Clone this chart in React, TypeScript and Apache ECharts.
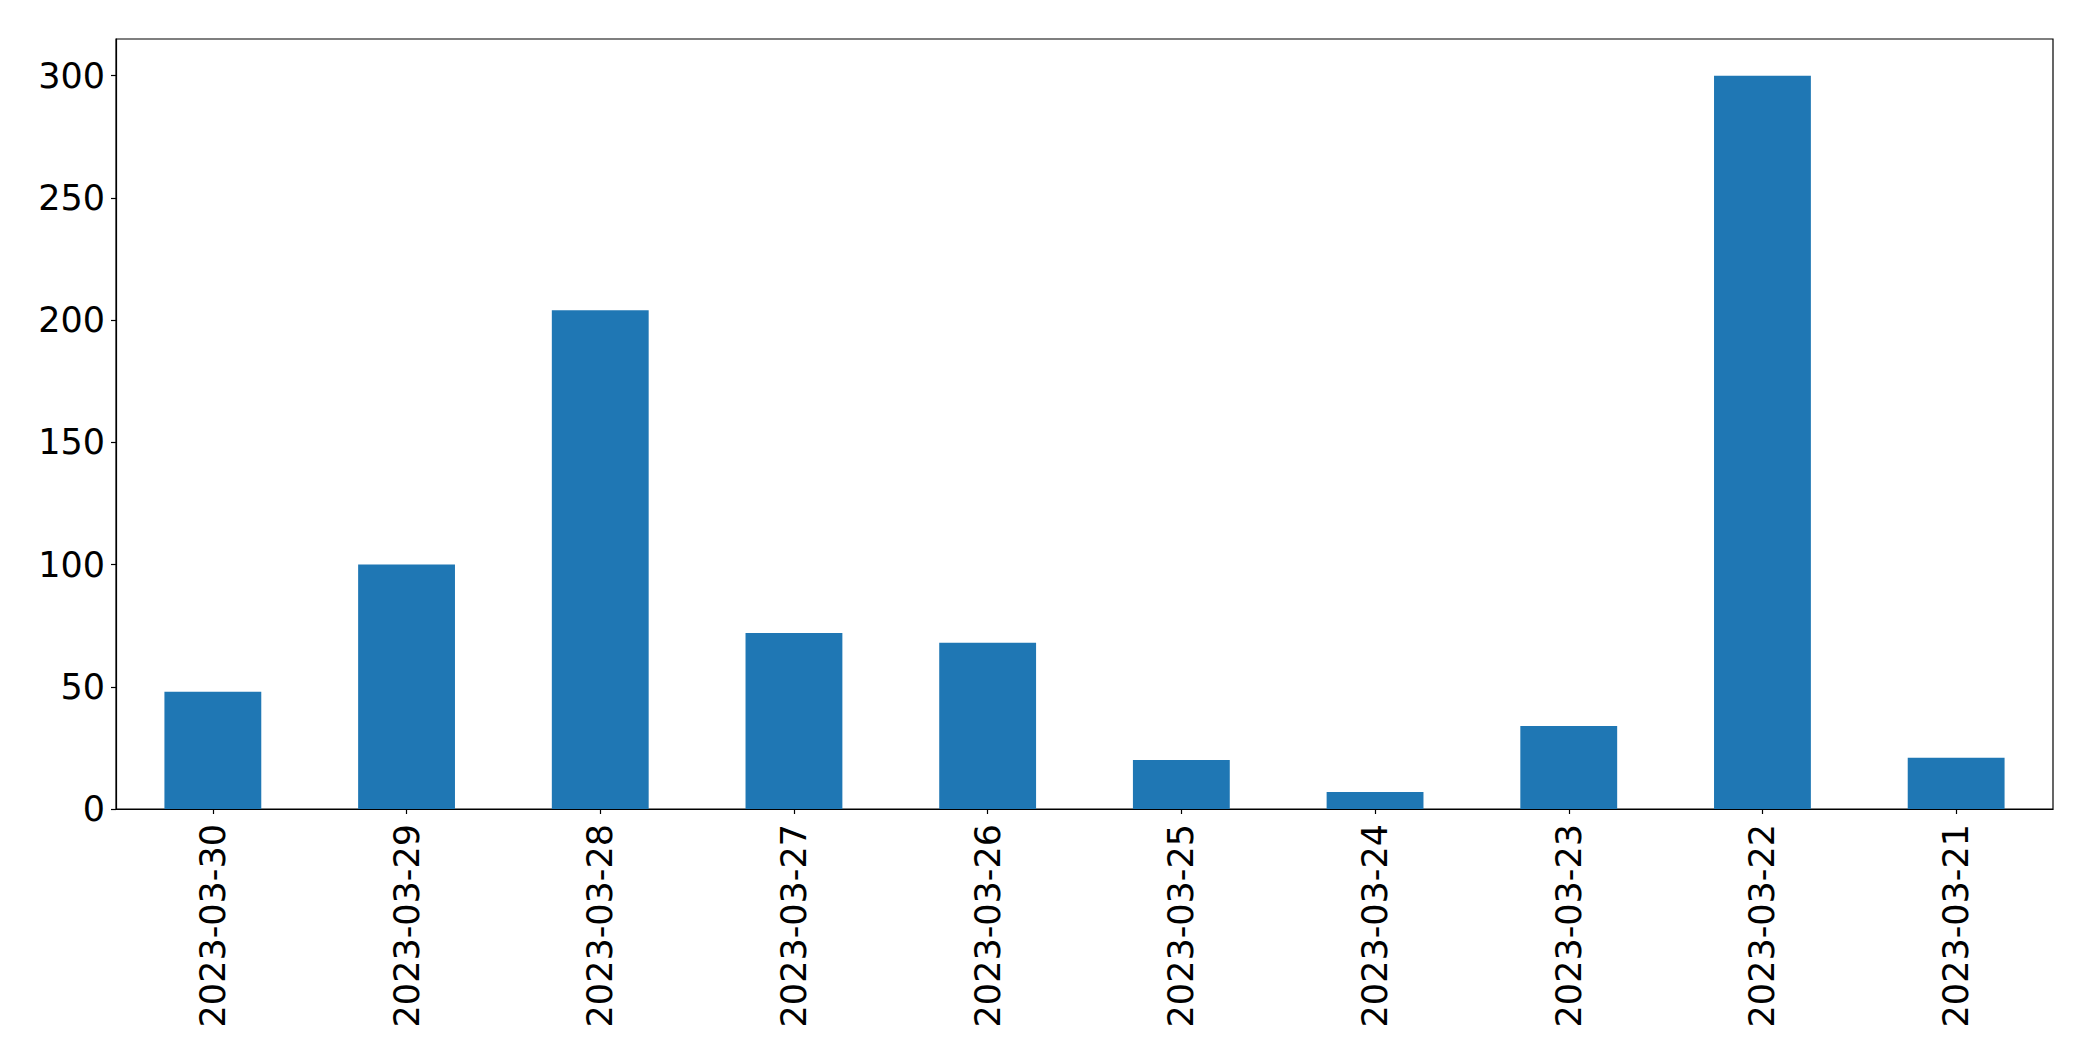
import React, { useEffect, useRef } from "react";
import * as echarts from "echarts";

const categories = [
  "2023-03-30",
  "2023-03-29",
  "2023-03-28",
  "2023-03-27",
  "2023-03-26",
  "2023-03-25",
  "2023-03-24",
  "2023-03-23",
  "2023-03-22",
  "2023-03-21",
];
const values = [48, 100, 204, 72, 68, 20, 7, 34, 300, 21];
const yTicks = [0, 50, 100, 150, 200, 250, 300];
const yMax = 315;

const FONT = "DejaVu Sans";

export default function App() {
  const ref = useRef<HTMLDivElement>(null);
  useEffect(() => {
    if (!ref.current) return;
    const chart = echarts.init(ref.current, undefined, { renderer: "svg" });
    chart.setOption({
      animation: false,
      backgroundColor: "#ffffff",
      grid: {
        left: 116,
        top: 39,
        right: 40,
        bottom: 252,
        show: true,
        borderColor: "#000000",
        borderWidth: 1.2,
        backgroundColor: "transparent",
        containLabel: false,
      },
      xAxis: {
        type: "category",
        data: categories,
        boundaryGap: true,
        axisLine: { show: true, lineStyle: { color: "#000000", width: 1.2 } },
        axisTick: {
          show: true,
          alignWithLabel: true,
          length: 5,
          lineStyle: { color: "#000000", width: 1.2 },
        },
        axisLabel: {
          rotate: 90,
          margin: 15,
          color: "#000000",
          fontFamily: FONT,
          fontSize: 35,
          interval: 0,
        },
        splitLine: { show: false },
      },
      yAxis: {
        type: "value",
        min: 0,
        max: yMax,
        axisLine: { show: true, lineStyle: { color: "#000000", width: 1.2 } },
        axisTick: {
          show: true,
          length: 5,
          lineStyle: { color: "#000000", width: 1.2 },
          customValues: yTicks,
        },
        axisLabel: {
          margin: 11,
          color: "#000000",
          fontFamily: FONT,
          fontSize: 35,
          customValues: yTicks,
        },
        splitLine: { show: false },
      },
      series: [
        {
          type: "bar",
          data: values,
          barWidth: "50%",
          itemStyle: { color: "#1f77b4" },
        },
      ],
    });
    return () => chart.dispose();
  }, []);
  return (
    <div
      ref={ref}
      style={{ position: "fixed", left: 0, top: 0, width: 2093, height: 1061 }}
    />
  );
}
